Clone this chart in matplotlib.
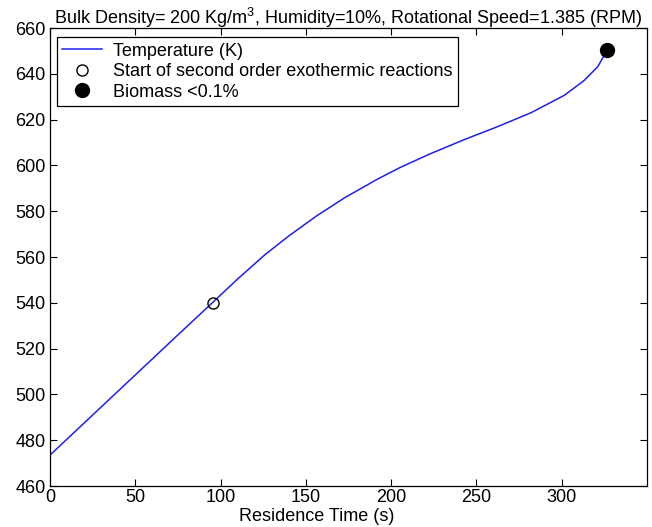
import matplotlib.pyplot as plt
import numpy as np

plt.rcParams['font.family'] = ['Liberation Sans', 'DejaVu Sans']
plt.rcParams['mathtext.fontset'] = 'custom'
plt.rcParams['mathtext.rm'] = 'Liberation Sans'

# temperature profile along the kiln
time_s = [0, 25, 50, 75, 95.3, 110, 126, 140, 156, 173, 192, 205,
          223, 243, 262, 282, 301.5, 313, 321, 324.5, 326.3]
temp_k = [473.5, 491.0, 508.5, 526.0, 540.1, 550.4, 561.0, 569.2, 577.8, 586.0, 594.0, 599.0,
          605.1, 611.3, 616.8, 623.0, 630.6, 637.0, 643.0, 647.5, 650.6]

# events
start_exo = (95.3, 540.1)
biomass_end = (326.3, 650.6)

fig = plt.figure(figsize=(6.52, 5.27), dpi=100)
ax = fig.add_axes([50/652, 41/527, 597/652, 458/527])

ax.plot(time_s, temp_k, color='#2020ee', lw=1.1, label='Temperature (K)')
ax.plot(*start_exo, 'o', mfc='none', mec='black', mew=1.0, ms=8,
        label='Start of second order exothermic reactions')
ax.plot(*biomass_end, 'o', color='black', ms=10, label='Biomass <0.1%')

ax.set_xlim(0, 350)
ax.set_ylim(460, 660)
ax.set_xticks(np.arange(0, 301, 50))
ax.set_yticks(np.arange(460, 661, 20))
ax.tick_params(direction='in', top=True, right=True, length=5, width=0.8,
               labelsize=13)
ax.tick_params(axis='y', pad=3)
ax.tick_params(axis='x', pad=2)
for s in ax.spines.values():
    s.set_linewidth(0.9)

ax.set_title('Bulk Density= 200 Kg/m$^3$, Humidity=10%, Rotational Speed=1.385 (RPM)',
             fontsize=13, pad=3)
ax.set_xlabel('Residence Time (s)', fontsize=13)
ax.xaxis.set_label_coords(0.446, -0.047)

leg = ax.legend(loc='upper left', bbox_to_anchor=(0.0117, 0.98), borderaxespad=0,
                fontsize=13, fancybox=False, edgecolor='black', framealpha=1,
                handlelength=2.2, handletextpad=0.6, labelspacing=0.2,
                borderpad=0.3)
leg.get_frame().set_linewidth(0.9)

fig.savefig('out.png', dpi=100)
